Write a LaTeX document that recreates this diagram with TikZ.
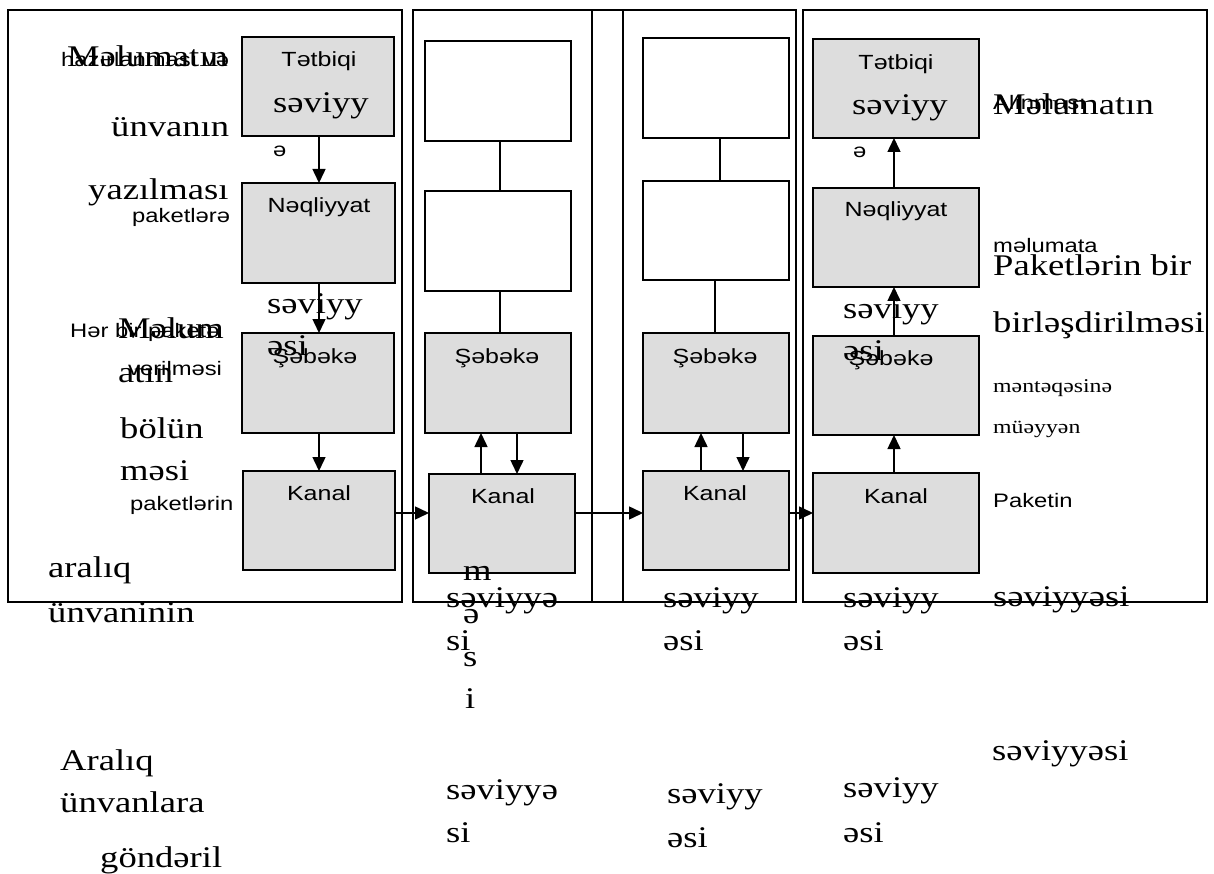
\documentclass[tikz,border=0pt]{standalone}
\usepackage{fontspec}
\usetikzlibrary{arrows.meta}
\newfontfamily\ssf[FakeStretch=1.22]{Liberation Sans}
\newfontfamily\srf[FakeStretch=1.22]{Liberation Serif}
\definecolor{boxgray}{RGB}{221,221,221}
\newcommand{\rbox}[6]{\node[#6,inner sep=0,outer sep=0,minimum width={(#4-#2)*1pt},minimum height={(#5-#3)*1pt}] (#1) at ({(#2+#4)/2},{(#3+#5)/2}) {};}
\begin{document}
\begin{tikzpicture}[x=1pt,y=-1pt,
 frame/.style={draw,line width=1.3pt},
 gbox/.style={draw,line width=1.3pt,fill=boxgray},
 wbox/.style={draw,line width=1.3pt,fill=white},
 arr/.style={line width=1.5pt,-{Triangle[length=14pt,width=13pt]}},
 conn/.style={line width=1.5pt},
 lbl/.style={inner sep=0,anchor=base,font=\ssf\fontsize{20.5}{22}\selectfont},
 st/.style={inner sep=0,anchor=base west,font=\ssf\fontsize{19.5}{21}\selectfont},
 tb/.style={inner sep=0,anchor=base west,font=\srf\fontsize{30}{32}\selectfont},
 ts/.style={inner sep=0,anchor=base west,font=\srf\fontsize{19.5}{21}\selectfont},
]
\useasboundingbox (0,0) rectangle (1214,874);
% frames
\rbox{f1}{8}{10}{402}{602}{frame}
\rbox{f23}{413}{10}{796}{602}{frame}
\rbox{f4}{803}{10}{1207}{602}{frame}
\coordinate (d1) at (592,10);
\coordinate (d2) at (623,10);
\draw[line width=1.3pt] (d1) -- (d1 |- f23.south);
\draw[line width=1.3pt] (d2) -- (d2 |- f23.south);
% column 1
\rbox{t1}{242}{37}{394}{136}{gbox}
\rbox{n1}{242}{183}{395}{283}{gbox}
\rbox{s1}{242}{333}{394}{433}{gbox}
\rbox{k1}{243}{471}{395}{570}{gbox}
% column 2
\rbox{w2a}{425}{41}{571}{141}{wbox}
\rbox{w2b}{425}{191}{571}{291}{wbox}
\rbox{s2}{425}{333}{571}{433}{gbox}
\rbox{k2}{429}{474}{575}{573}{gbox}
% column 3
\rbox{w3a}{643}{38}{789}{138}{wbox}
\rbox{w3b}{643}{181}{789}{280}{wbox}
\rbox{s3}{643}{333}{789}{433}{gbox}
\rbox{k3}{643}{471}{789}{570}{gbox}
% column 4
\rbox{t4}{813}{39}{979}{138}{gbox}
\rbox{n4}{813}{188}{979}{287}{gbox}
\rbox{s4}{813}{336}{979}{435}{gbox}
\rbox{k4}{813}{473}{979}{573}{gbox}
% guide coordinates
\coordinate (x1) at (319,0);
\coordinate (x2) at (500,0);
\coordinate (u2) at (481,0);
\coordinate (v2) at (517,0);
\coordinate (x3a) at (720,0);
\coordinate (x3b) at (715,0);
\coordinate (u3) at (701,0);
\coordinate (v3) at (743,0);
\coordinate (x4) at (894,0);
\coordinate (hy) at (0,513);
% connectors column 1
\draw[arr] (t1.south -| x1) -- (n1.north -| x1);
\draw[arr] (n1.south -| x1) -- (s1.north -| x1);
\draw[arr] (s1.south -| x1) -- (k1.north -| x1);
% column 2
\draw[conn] (w2a.south -| x2) -- (w2b.north -| x2);
\draw[conn] (w2b.south -| x2) -- (s2.north -| x2);
\draw[arr] (k2.north -| u2) -- (s2.south -| u2);
\draw[arr] (s2.south -| v2) -- (k2.north -| v2);
% column 3
\draw[conn] (w3a.south -| x3a) -- (w3b.north -| x3a);
\draw[conn] (w3b.south -| x3b) -- (s3.north -| x3b);
\draw[arr] (k3.north -| u3) -- (s3.south -| u3);
\draw[arr] (s3.south -| v3) -- (k3.north -| v3);
% column 4
\draw[arr] (k4.north -| x4) -- (s4.south -| x4);
\draw[arr] (s4.north -| x4) -- (n4.south -| x4);
\draw[arr] (n4.north -| x4) -- (t4.south -| x4);
% horizontal
\draw[arr] (k1.east |- hy) -- (k2.west |- hy);
\draw[arr] (k2.east |- hy) -- (k3.west |- hy);
\draw[arr] (k3.east |- hy) -- (k4.west |- hy);
% box labels
\node[lbl] (lt1) at (319,67) {Tətbiqi};
\node[lbl] (ln1) at (319,213) {Nəqliyyat};
\node[lbl] (ls1) at (315,363) {Şəbəkə};
\node[lbl] (lk1) at (319,500) {Kanal};
\node[lbl] (ls2) at (497,363) {Şəbəkə};
\node[lbl] (lk2) at (503,503) {Kanal};
\node[lbl] (ls3) at (715,363) {Şəbəkə};
\node[lbl] (lk3) at (715,500) {Kanal};
\node[lbl] (lt4) at (896,70) {Tətbiqi};
\node[lbl] (ln4) at (896,217) {Nəqliyyat};
\node[lbl] (ls4) at (891,365) {Şəbəkə};
\node[lbl] (lk4) at (896,503) {Kanal};
% level words in boxes
\node[tb] (sv1) at (273,113) {səviyy};
\node[st] (e1) at (273,157) {ə};
\node[tb] (sv4) at (852,115) {səviyy};
\node[st] (e4) at (853,158) {ə};
\node[tb] (sv1b) at (267,313) {səviyy};
\node[tb] (es1b) at (267,355) {əsi};
\node[tb] (sv4b) at (843,318) {səviyy};
\node[tb] (es4b) at (843,360) {əsi};
% left texts
\node[st] (a1) at (61,67) {hazırlanması və};
\node[tb] (a2) at (67,67) {Məlumatın};
\node[tb] (a3) at (111,137) {ünvanın};
\node[tb] (a4) at (88,200) {yazılması};
\node[st] (a5) at (132,223) {paketlərə};
\node[st] (a6) at (70,337) {Hər bir paketə};
\node[tb] (a7) at (118,338) {Məlum};
\node[st] (a8) at (128,375) {verilməsi};
\node[tb] (a9) at (118,382) {atın};
\node[tb] (a10) at (120,438) {bölün};
\node[tb] (a11) at (120,480) {məsi};
\node[st] (a12) at (130,510) {paketlərin};
\node[tb] (a13) at (48,577) {aralıq};
\node[tb] (a14) at (48,622) {ünvaninin};
\node[tb] (a15) at (60,770) {Aralıq};
\node[tb] (a16) at (60,812) {ünvanlara};
\node[tb] (a17) at (100,867) {göndəril};
% right texts
\node[st] (r1) at (993,110) {Alınması};
\node[tb] (r2) at (993,115) {Məlumatın};
\node[st] (r3) at (993,253) {məlumata};
\node[tb] (r4) at (993,276) {Paketlərin bir};
\node[tb] (r5) at (993,332) {birləşdirilməsi};
\node[ts] (r6) at (993,392) {məntəqəsinə};
\node[ts] (r7) at (993,433) {müəyyən};
\node[st] (r8) at (993,507) {Paketin};
\node[tb] (r9) at (993,606) {səviyyəsi};
\node[tb] (r10) at (992,760) {səviyyəsi};
% bottom texts
\node[tb] (m1) at (463,580) {m};
\node[tb] (m2) at (463,623) {ə};
\node[tb] (m3) at (463,666) {s};
\node[tb] (m4) at (465,708) {i};
\node[tb] (b1) at (446,607) {səviyyə};
\node[tb] (b2) at (446,650) {si};
\node[tb] (b3) at (663,607) {səviyy};
\node[tb] (b4) at (663,650) {əsi};
\node[tb] (b5) at (843,607) {səviyy};
\node[tb] (b6) at (843,650) {əsi};
\node[tb] (c1) at (446,799) {səviyyə};
\node[tb] (c2) at (446,842) {si};
\node[tb] (c3) at (667,803) {səviyy};
\node[tb] (c4) at (667,847) {əsi};
\node[tb] (c5) at (843,797) {səviyy};
\node[tb] (c6) at (843,842) {əsi};
\end{tikzpicture}
\end{document}
